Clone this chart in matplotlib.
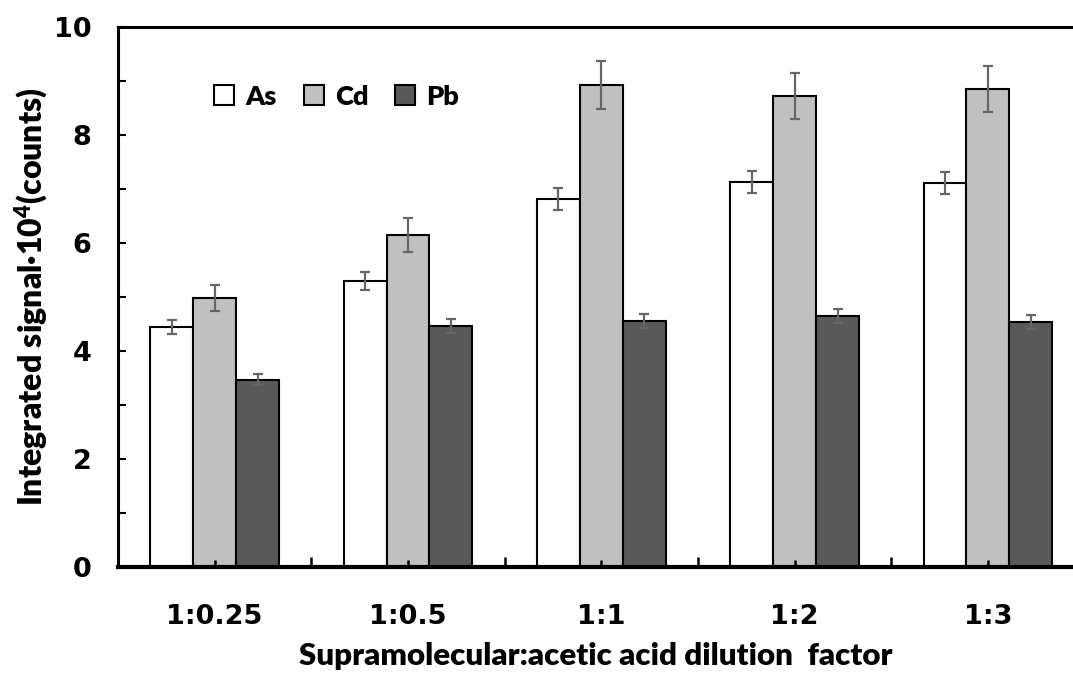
import matplotlib as mpl
import matplotlib.pyplot as plt
import numpy as np

mpl.rcParams['mathtext.default'] = 'regular'

# data
ratios = ['1:0.25', '1:0.5', '1:1', '1:2', '1:3']
as_vals = [4.45, 5.30, 6.82, 7.13, 7.11]
as_err = [0.13, 0.17, 0.20, 0.21, 0.21]
cd_vals = [4.98, 6.15, 8.93, 8.72, 8.85]
cd_err = [0.24, 0.31, 0.44, 0.43, 0.43]
pb_vals = [3.47, 4.47, 4.55, 4.65, 4.53]
pb_err = [0.10, 0.13, 0.13, 0.13, 0.13]

fig = plt.figure(figsize=(10.73, 6.74), dpi=100)
ax = fig.add_axes([118/1073, 107/674, 1 - 118/1073, 540/674])

x = np.arange(len(ratios))
w = 0.222
err_fmt = dict(ecolor='#666666', capsize=3.6, error_kw=dict(elinewidth=1.6, capthick=1.6))
ax.bar(x - w, as_vals, w, yerr=as_err, color='white', edgecolor='black', linewidth=1.5, label='As', **err_fmt)
ax.bar(x, cd_vals, w, yerr=cd_err, color='#c0c0c0', edgecolor='black', linewidth=1.5, label='Cd', **err_fmt)
ax.bar(x + w, pb_vals, w, yerr=pb_err, color='#595959', edgecolor='black', linewidth=1.5, label='Pb', **err_fmt)

ax.set_xlim(-0.5, 4.44)
ax.set_ylim(0, 10)

# spines
ax.spines['right'].set_visible(False)
ax.spines['bottom'].set_linewidth(3)
ax.spines['left'].set_linewidth(2.2)
ax.spines['top'].set_linewidth(2.2)

# ticks
tick_font = dict(family='DejaVu Sans', weight='bold', size=19.5)
ax.set_yticks(np.arange(0, 11, 2))
ax.set_yticks(np.arange(1, 10, 2), minor=True)
ax.set_yticklabels([str(v) for v in range(0, 11, 2)], fontdict=tick_font)
ax.set_xticks(x)
ax.set_xticks(x[:-1] + 0.5, minor=True)
ax.set_xticklabels(ratios, fontdict=tick_font)
ax.tick_params(axis='y', which='both', direction='in', length=6, width=1.5, pad=19)
ax.tick_params(axis='x', which='major', direction='in', length=5, width=1.8, pad=27)
ax.tick_params(axis='x', which='minor', direction='in', length=7.5, width=1.8)
ax.tick_params(top=False, right=False)

# axis labels
lab_font = dict(family='Lato', weight='heavy', size=22.5)
ax.set_xlabel('Supramolecular:acetic acid dilution  factor', fontdict=lab_font, labelpad=8)
ax.set_ylabel('Integrated signal·10$^4$(counts)', fontdict=dict(lab_font, size=23), labelpad=3)

ax.legend(loc='upper left', bbox_to_anchor=(0.101, 0.893), ncol=3, frameon=False,
          prop=dict(family='Lato', weight='heavy', size=19.5),
          handlelength=0.74, handleheight=0.74, handletextpad=0.4, columnspacing=1.0,
          borderaxespad=0, borderpad=0)

plt.savefig('out.png', dpi=100)
